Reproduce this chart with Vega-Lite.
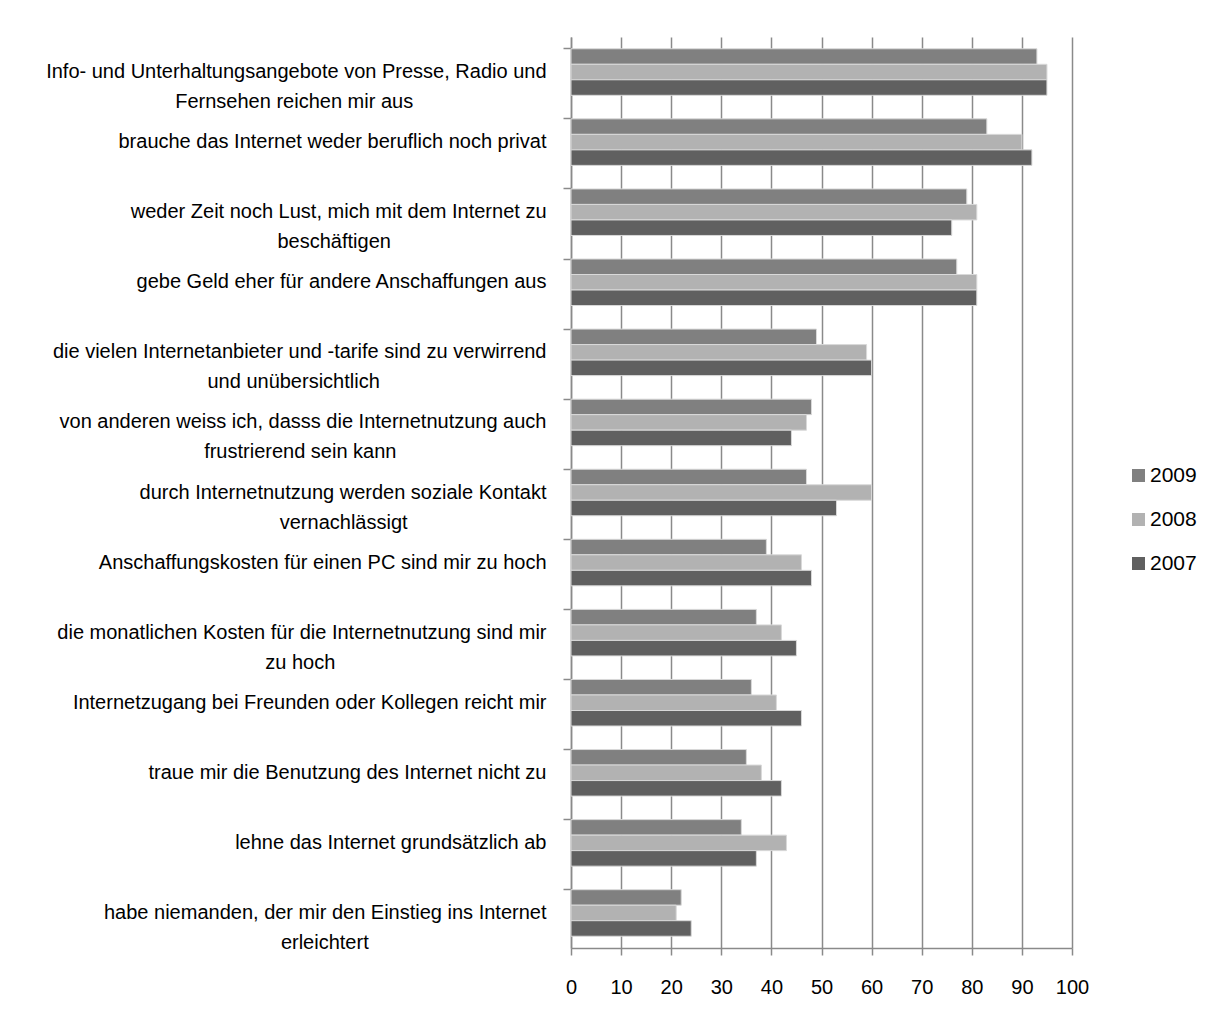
{
  "$schema": "https://vega.github.io/schema/vega-lite/v6.json",
  "autosize": "none",
  "width": 501,
  "height": 911,
  "padding": {"left": 571, "top": 37, "right": 146, "bottom": 76},
  "background": "white",
  "config": {
    "font": "Liberation Sans",
    "view": {"stroke": null}
  },
  "data": {
    "values": [
      {"k": 1, "label": "Info- und Unterhaltungsangebote von Presse, Radio und|Fernsehen reichen mir aus\u00a0\u00a0\u00a0\u00a0\u00a0\u00a0\u00a0\u00a0\u00a0\u00a0\u00a0\u00a0\u00a0\u00a0\u00a0\u00a0\u00a0\u00a0\u00a0\u00a0\u00a0\u00a0\u00a0\u00a0\u200b", "year": "2009", "value": 93},
      {"k": 1, "label": "Info- und Unterhaltungsangebote von Presse, Radio und|Fernsehen reichen mir aus\u00a0\u00a0\u00a0\u00a0\u00a0\u00a0\u00a0\u00a0\u00a0\u00a0\u00a0\u00a0\u00a0\u00a0\u00a0\u00a0\u00a0\u00a0\u00a0\u00a0\u00a0\u00a0\u00a0\u00a0\u200b", "year": "2008", "value": 95},
      {"k": 1, "label": "Info- und Unterhaltungsangebote von Presse, Radio und|Fernsehen reichen mir aus\u00a0\u00a0\u00a0\u00a0\u00a0\u00a0\u00a0\u00a0\u00a0\u00a0\u00a0\u00a0\u00a0\u00a0\u00a0\u00a0\u00a0\u00a0\u00a0\u00a0\u00a0\u00a0\u00a0\u00a0\u200b", "year": "2007", "value": 95},
      {"k": 2, "label": "brauche das Internet weder beruflich noch privat", "year": "2009", "value": 83},
      {"k": 2, "label": "brauche das Internet weder beruflich noch privat", "year": "2008", "value": 90},
      {"k": 2, "label": "brauche das Internet weder beruflich noch privat", "year": "2007", "value": 92},
      {"k": 3, "label": "weder Zeit noch Lust, mich mit dem Internet zu|beschäftigen\u00a0\u00a0\u00a0\u00a0\u00a0\u00a0\u00a0\u00a0\u00a0\u00a0\u00a0\u00a0\u00a0\u00a0\u00a0\u00a0\u00a0\u00a0\u00a0\u00a0\u00a0\u00a0\u00a0\u00a0\u00a0\u00a0\u00a0\u00a0\u200b", "year": "2009", "value": 79},
      {"k": 3, "label": "weder Zeit noch Lust, mich mit dem Internet zu|beschäftigen\u00a0\u00a0\u00a0\u00a0\u00a0\u00a0\u00a0\u00a0\u00a0\u00a0\u00a0\u00a0\u00a0\u00a0\u00a0\u00a0\u00a0\u00a0\u00a0\u00a0\u00a0\u00a0\u00a0\u00a0\u00a0\u00a0\u00a0\u00a0\u200b", "year": "2008", "value": 81},
      {"k": 3, "label": "weder Zeit noch Lust, mich mit dem Internet zu|beschäftigen\u00a0\u00a0\u00a0\u00a0\u00a0\u00a0\u00a0\u00a0\u00a0\u00a0\u00a0\u00a0\u00a0\u00a0\u00a0\u00a0\u00a0\u00a0\u00a0\u00a0\u00a0\u00a0\u00a0\u00a0\u00a0\u00a0\u00a0\u00a0\u200b", "year": "2007", "value": 76},
      {"k": 4, "label": "gebe Geld eher für andere Anschaffungen aus", "year": "2009", "value": 77},
      {"k": 4, "label": "gebe Geld eher für andere Anschaffungen aus", "year": "2008", "value": 81},
      {"k": 4, "label": "gebe Geld eher für andere Anschaffungen aus", "year": "2007", "value": 81},
      {"k": 5, "label": "die vielen Internetanbieter und -tarife sind zu verwirrend|und unübersichtlich\u00a0\u00a0\u00a0\u00a0\u00a0\u00a0\u00a0\u00a0\u00a0\u00a0\u00a0\u00a0\u00a0\u00a0\u00a0\u00a0\u00a0\u00a0\u00a0\u00a0\u00a0\u00a0\u00a0\u00a0\u00a0\u00a0\u00a0\u00a0\u00a0\u00a0\u200b", "year": "2009", "value": 49},
      {"k": 5, "label": "die vielen Internetanbieter und -tarife sind zu verwirrend|und unübersichtlich\u00a0\u00a0\u00a0\u00a0\u00a0\u00a0\u00a0\u00a0\u00a0\u00a0\u00a0\u00a0\u00a0\u00a0\u00a0\u00a0\u00a0\u00a0\u00a0\u00a0\u00a0\u00a0\u00a0\u00a0\u00a0\u00a0\u00a0\u00a0\u00a0\u00a0\u200b", "year": "2008", "value": 59},
      {"k": 5, "label": "die vielen Internetanbieter und -tarife sind zu verwirrend|und unübersichtlich\u00a0\u00a0\u00a0\u00a0\u00a0\u00a0\u00a0\u00a0\u00a0\u00a0\u00a0\u00a0\u00a0\u00a0\u00a0\u00a0\u00a0\u00a0\u00a0\u00a0\u00a0\u00a0\u00a0\u00a0\u00a0\u00a0\u00a0\u00a0\u00a0\u00a0\u200b", "year": "2007", "value": 60},
      {"k": 6, "label": "von anderen weiss ich, dasss die Internetnutzung auch|frustrierend sein kann\u00a0\u00a0\u00a0\u00a0\u00a0\u00a0\u00a0\u00a0\u00a0\u00a0\u00a0\u00a0\u00a0\u00a0\u00a0\u00a0\u00a0\u00a0\u00a0\u00a0\u00a0\u00a0\u00a0\u00a0\u00a0\u00a0\u00a0\u200b", "year": "2009", "value": 48},
      {"k": 6, "label": "von anderen weiss ich, dasss die Internetnutzung auch|frustrierend sein kann\u00a0\u00a0\u00a0\u00a0\u00a0\u00a0\u00a0\u00a0\u00a0\u00a0\u00a0\u00a0\u00a0\u00a0\u00a0\u00a0\u00a0\u00a0\u00a0\u00a0\u00a0\u00a0\u00a0\u00a0\u00a0\u00a0\u00a0\u200b", "year": "2008", "value": 47},
      {"k": 6, "label": "von anderen weiss ich, dasss die Internetnutzung auch|frustrierend sein kann\u00a0\u00a0\u00a0\u00a0\u00a0\u00a0\u00a0\u00a0\u00a0\u00a0\u00a0\u00a0\u00a0\u00a0\u00a0\u00a0\u00a0\u00a0\u00a0\u00a0\u00a0\u00a0\u00a0\u00a0\u00a0\u00a0\u00a0\u200b", "year": "2007", "value": 44},
      {"k": 7, "label": "durch Internetnutzung werden soziale Kontakt|vernachlässigt\u00a0\u00a0\u00a0\u00a0\u00a0\u00a0\u00a0\u00a0\u00a0\u00a0\u00a0\u00a0\u00a0\u00a0\u00a0\u00a0\u00a0\u00a0\u00a0\u00a0\u00a0\u00a0\u00a0\u00a0\u00a0\u200b", "year": "2009", "value": 47},
      {"k": 7, "label": "durch Internetnutzung werden soziale Kontakt|vernachlässigt\u00a0\u00a0\u00a0\u00a0\u00a0\u00a0\u00a0\u00a0\u00a0\u00a0\u00a0\u00a0\u00a0\u00a0\u00a0\u00a0\u00a0\u00a0\u00a0\u00a0\u00a0\u00a0\u00a0\u00a0\u00a0\u200b", "year": "2008", "value": 60},
      {"k": 7, "label": "durch Internetnutzung werden soziale Kontakt|vernachlässigt\u00a0\u00a0\u00a0\u00a0\u00a0\u00a0\u00a0\u00a0\u00a0\u00a0\u00a0\u00a0\u00a0\u00a0\u00a0\u00a0\u00a0\u00a0\u00a0\u00a0\u00a0\u00a0\u00a0\u00a0\u00a0\u200b", "year": "2007", "value": 53},
      {"k": 8, "label": "Anschaffungskosten für einen PC sind mir zu hoch", "year": "2009", "value": 39},
      {"k": 8, "label": "Anschaffungskosten für einen PC sind mir zu hoch", "year": "2008", "value": 46},
      {"k": 8, "label": "Anschaffungskosten für einen PC sind mir zu hoch", "year": "2007", "value": 48},
      {"k": 9, "label": "die monatlichen Kosten für die Internetnutzung sind mir|zu hoch\u00a0\u00a0\u00a0\u00a0\u00a0\u00a0\u00a0\u00a0\u00a0\u00a0\u00a0\u00a0\u00a0\u00a0\u00a0\u00a0\u00a0\u00a0\u00a0\u00a0\u00a0\u00a0\u00a0\u00a0\u00a0\u00a0\u00a0\u00a0\u00a0\u00a0\u00a0\u00a0\u00a0\u00a0\u00a0\u00a0\u00a0\u00a0\u200b", "year": "2009", "value": 37},
      {"k": 9, "label": "die monatlichen Kosten für die Internetnutzung sind mir|zu hoch\u00a0\u00a0\u00a0\u00a0\u00a0\u00a0\u00a0\u00a0\u00a0\u00a0\u00a0\u00a0\u00a0\u00a0\u00a0\u00a0\u00a0\u00a0\u00a0\u00a0\u00a0\u00a0\u00a0\u00a0\u00a0\u00a0\u00a0\u00a0\u00a0\u00a0\u00a0\u00a0\u00a0\u00a0\u00a0\u00a0\u00a0\u00a0\u200b", "year": "2008", "value": 42},
      {"k": 9, "label": "die monatlichen Kosten für die Internetnutzung sind mir|zu hoch\u00a0\u00a0\u00a0\u00a0\u00a0\u00a0\u00a0\u00a0\u00a0\u00a0\u00a0\u00a0\u00a0\u00a0\u00a0\u00a0\u00a0\u00a0\u00a0\u00a0\u00a0\u00a0\u00a0\u00a0\u00a0\u00a0\u00a0\u00a0\u00a0\u00a0\u00a0\u00a0\u00a0\u00a0\u00a0\u00a0\u00a0\u00a0\u200b", "year": "2007", "value": 45},
      {"k": 10, "label": "Internetzugang bei Freunden oder Kollegen reicht mir", "year": "2009", "value": 36},
      {"k": 10, "label": "Internetzugang bei Freunden oder Kollegen reicht mir", "year": "2008", "value": 41},
      {"k": 10, "label": "Internetzugang bei Freunden oder Kollegen reicht mir", "year": "2007", "value": 46},
      {"k": 11, "label": "traue mir die Benutzung des Internet nicht zu", "year": "2009", "value": 35},
      {"k": 11, "label": "traue mir die Benutzung des Internet nicht zu", "year": "2008", "value": 38},
      {"k": 11, "label": "traue mir die Benutzung des Internet nicht zu", "year": "2007", "value": 42},
      {"k": 12, "label": "lehne das Internet grundsätzlich ab", "year": "2009", "value": 34},
      {"k": 12, "label": "lehne das Internet grundsätzlich ab", "year": "2008", "value": 43},
      {"k": 12, "label": "lehne das Internet grundsätzlich ab", "year": "2007", "value": 37},
      {"k": 13, "label": "habe niemanden, der mir den Einstieg ins Internet|erleichtert\u00a0\u00a0\u00a0\u00a0\u00a0\u00a0\u00a0\u00a0\u00a0\u00a0\u00a0\u00a0\u00a0\u00a0\u00a0\u00a0\u00a0\u00a0\u00a0\u00a0\u00a0\u00a0\u00a0\u00a0\u00a0\u00a0\u00a0\u00a0\u00a0\u00a0\u00a0\u00a0\u200b", "year": "2009", "value": 22},
      {"k": 13, "label": "habe niemanden, der mir den Einstieg ins Internet|erleichtert\u00a0\u00a0\u00a0\u00a0\u00a0\u00a0\u00a0\u00a0\u00a0\u00a0\u00a0\u00a0\u00a0\u00a0\u00a0\u00a0\u00a0\u00a0\u00a0\u00a0\u00a0\u00a0\u00a0\u00a0\u00a0\u00a0\u00a0\u00a0\u00a0\u00a0\u00a0\u00a0\u200b", "year": "2008", "value": 21},
      {"k": 13, "label": "habe niemanden, der mir den Einstieg ins Internet|erleichtert\u00a0\u00a0\u00a0\u00a0\u00a0\u00a0\u00a0\u00a0\u00a0\u00a0\u00a0\u00a0\u00a0\u00a0\u00a0\u00a0\u00a0\u00a0\u00a0\u00a0\u00a0\u00a0\u00a0\u00a0\u00a0\u00a0\u00a0\u00a0\u00a0\u00a0\u00a0\u00a0\u200b", "year": "2007", "value": 24}
    ]
  },
  "mark": {"type": "bar", "stroke": "#d9d9d9", "strokeWidth": 1},
  "encoding": {
    "y": {
      "field": "label",
      "type": "nominal",
      "sort": {"field": "k", "op": "min", "order": "ascending"},
      "scale": {"paddingInner": 0.336, "paddingOuter": 0.168},
      "axis": {
        "title": null,
        "bandPosition": 0,
        "labelExpr": "split(datum.label, '|')",
        "labelFontSize": 20,
        "labelColor": "black",
        "labelLineHeight": 30,
        "labelPadding": 17,
        "labelLimit": 600,
        "tickSize": 8,
        "tickColor": "#8a8a8a",
        "tickWidth": 1.5,
        "domainColor": "#8a8a8a",
        "domainWidth": 1.5,
        "grid": false
      }
    },
    "yOffset": {"field": "year", "type": "nominal", "sort": ["2009", "2008", "2007"]},
    "x": {
      "field": "value",
      "type": "quantitative",
      "scale": {"domain": [0, 100], "nice": false},
      "axis": {
        "title": null,
        "values": [0, 10, 20, 30, 40, 50, 60, 70, 80, 90, 100],
        "labelFontSize": 20,
        "labelColor": "black",
        "labelPadding": 22,
        "tickSize": 7,
        "tickColor": "#8a8a8a",
        "tickWidth": 1.5,
        "domainColor": "#8a8a8a",
        "domainWidth": 1.5,
        "grid": true,
        "gridColor": "#8a8a8a",
        "gridWidth": 1.5,
        "labelFlush": false
      }
    },
    "color": {
      "field": "year",
      "type": "nominal",
      "scale": {"domain": ["2009", "2008", "2007"], "range": ["#808080", "#b2b2b2", "#606060"]},
      "legend": {
        "title": null,
        "orient": "none",
        "legendX": 557,
        "legendY": 428,
        "padding": 0,
        "symbolType": "square",
        "symbolSize": 169,
        "symbolStrokeWidth": 0,
        "labelFontSize": 21,
        "labelColor": "black",
        "labelOffset": 1,
        "rowPadding": 22
      }
    }
  }
}
